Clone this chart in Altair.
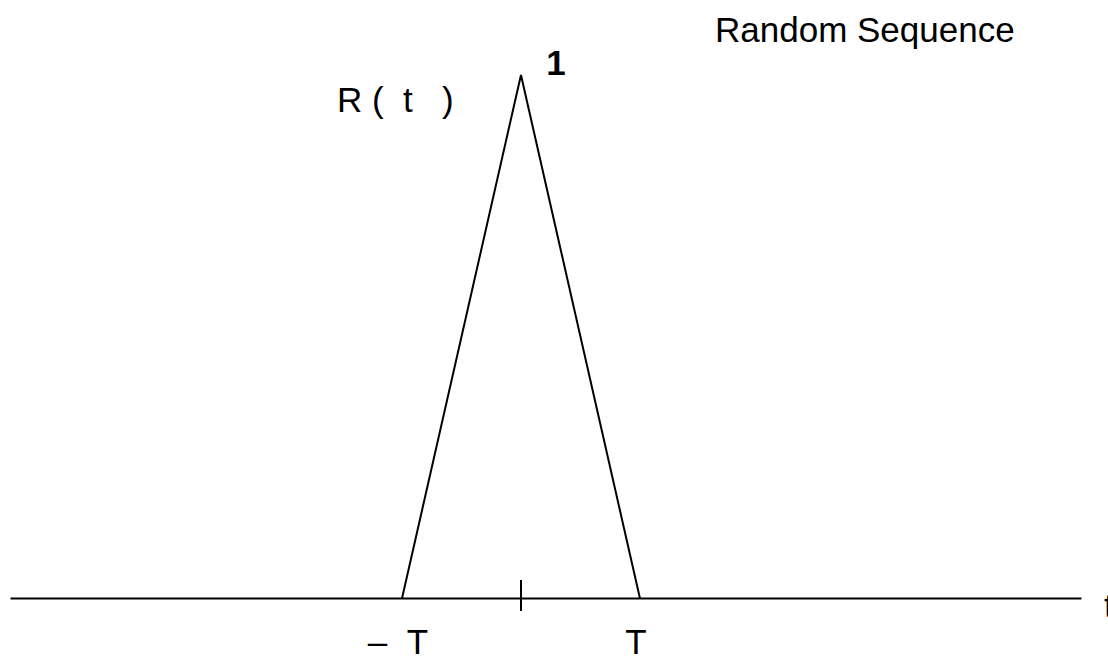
import altair as alt
import pandas as pd

# Autocorrelation R(t) of a random binary sequence: a triangle of half-width T
lag = [-1.0, 0.0, 1.0]          # in units of T
corr = [0.0, 1.0, 0.0]

axis_from = [-4.29]             # extent of the lag axis, in units of T
axis_to = [4.71]
tick_lag = [0.0]

tick_label_text = ["\u2013\u00a0\u00a0T", "T"]
tick_label_lag = [-1.0, 1.0]

peak_text = ["1"]
peak_lag = [0.0]
peak_value = [1.0]

FONT = "Liberation Sans"
W, H = 1108, 656

xs = alt.Scale(domain=[-4.378, 4.933], nice=False, zero=False)
ys = alt.Scale(domain=[-0.1098, 1.1433], nice=False, zero=False)

tri = pd.DataFrame({"lag": lag, "R": corr, "i": range(len(lag))})
base = pd.DataFrame({"a": axis_from, "b": axis_to, "R": [0.0]})
ticks = pd.DataFrame({"lag": tick_lag})
tlab = pd.DataFrame({"lag": tick_label_lag, "label": tick_label_text})
peak = pd.DataFrame({"lag": peak_lag, "R": peak_value, "label": peak_text})

baseline = alt.Chart(base).mark_rule(color="black", strokeWidth=2).encode(
    x=alt.X("a:Q", scale=xs, axis=None),
    x2="b:Q",
    y=alt.Y("R:Q", scale=ys, axis=None),
)

tick = alt.Chart(ticks).mark_rule(color="black", strokeWidth=2).encode(
    x=alt.X("lag:Q", scale=xs, axis=None),
    y=alt.value(580),
    y2=alt.value(611),
)

triangle = alt.Chart(tri).mark_line(color="black", strokeWidth=2).encode(
    x=alt.X("lag:Q", scale=xs, axis=None),
    y=alt.Y("R:Q", scale=ys, axis=None),
    order="i:O",
)

tick_labels = alt.Chart(tlab).mark_text(
    font=FONT, fontSize=35, color="black", align="center",
    baseline="alphabetic", dx=-4,
).encode(
    x=alt.X("lag:Q", scale=xs, axis=None),
    y=alt.value(654),
    text="label:N",
)

peak_label = alt.Chart(peak).mark_text(
    font=FONT, fontSize=35, fontWeight="bold", color="black",
    align="center", baseline="alphabetic", dx=35,
).encode(
    x=alt.X("lag:Q", scale=xs, axis=None),
    y=alt.Y("R:Q", scale=ys, axis=None),
    text="label:N",
)


def caption(text, x, y, align="left"):
    return alt.Chart(pd.DataFrame({"label": [text]})).mark_text(
        font=FONT, fontSize=35, color="black", align=align,
        baseline="alphabetic",
    ).encode(x=alt.value(x), y=alt.value(y), text="label:N")


y_title = caption("R\u00a0(\u00a0\u00a0t\u00a0\u00a0\u00a0)", 337, 112)
x_title = caption("t", 1104, 618)
title = caption("Random Sequence", 715, 42)

chart = alt.layer(
    baseline, tick, triangle, tick_labels, peak_label, y_title, x_title, title
).properties(
    width=W, height=H, padding=0, autosize="none", background="white"
).configure_view(strokeWidth=0)

chart.save("out.html", embed_options={"renderer": "svg", "actions": False})
